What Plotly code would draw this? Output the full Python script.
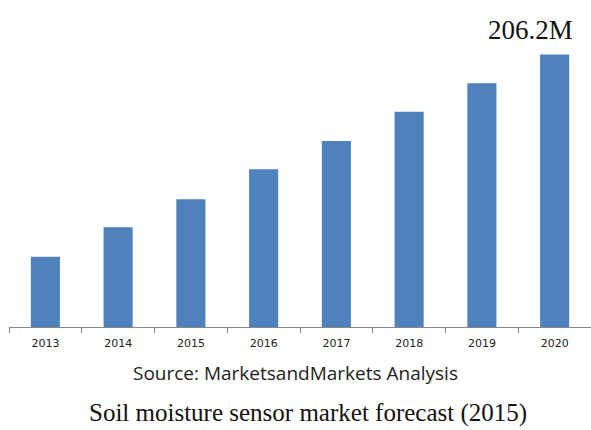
import plotly.graph_objects as go

# Soil moisture sensor market size by year (USD million)
years = ["2013", "2014", "2015", "2016", "2017", "2018", "2019", "2020"]
market_size = [53.2, 75.4, 96.6, 119.3, 140.7, 162.9, 184.4, 206.2]
final_label = "206.2M"

source_text = "Source: MarketsandMarkets Analysis"
caption_text = "Soil moisture sensor market forecast (2015)"

bar_color = "#4F81BD"
axis_color = "#868686"

fig = go.Figure(
    go.Bar(
        x=years,
        y=market_size,
        marker=dict(color=bar_color, line=dict(width=0)),
        hoverinfo="x+y",
    )
)

# value callout above the last bar (positioned by category index)
fig.add_annotation(
    x=len(years) - 1, y=market_size[-1],
    text=final_label,
    showarrow=False,
    xanchor="center", yanchor="bottom",
    xshift=-24, yshift=7,
    font=dict(family="Liberation Serif", size=27, color="#111111"),
)

fig.add_annotation(
    xref="paper", yref="paper",
    x=0.5, y=0, xshift=-5,
    yanchor="middle", yshift=-(373 - 327),
    text=source_text, showarrow=False,
    font=dict(family="Open Sans", size=19, color="#222222"),
)

fig.add_annotation(
    xref="paper", yref="paper",
    x=0.5, y=0, xshift=8,
    yanchor="middle", yshift=-(413 - 327),
    text=caption_text, showarrow=False,
    font=dict(family="Liberation Serif", size=25, color="#111111"),
)

fig.update_layout(
    width=591, height=430,
    margin=dict(l=9, r=0, t=20, b=103),
    paper_bgcolor="white",
    plot_bgcolor="white",
    bargap=0.6,
    showlegend=False,
    xaxis=dict(
        type="category",
        categoryorder="array", categoryarray=years,
        range=[-0.5, len(years) - 0.5],
        showline=True, linecolor=axis_color, linewidth=1,
        ticks="outside", tickson="boundaries", ticklen=5,
        tickcolor=axis_color, tickwidth=1,
        showgrid=False, zeroline=False,
        tickangle=0,
        ticklabelstandoff=6,
        tickfont=dict(family="DejaVu Sans", size=11, color="#222222"),
    ),
    yaxis=dict(
        range=[0, 232.3],
        visible=False,
        showgrid=False, zeroline=False,
    ),
)

fig.write_html("out.html")
